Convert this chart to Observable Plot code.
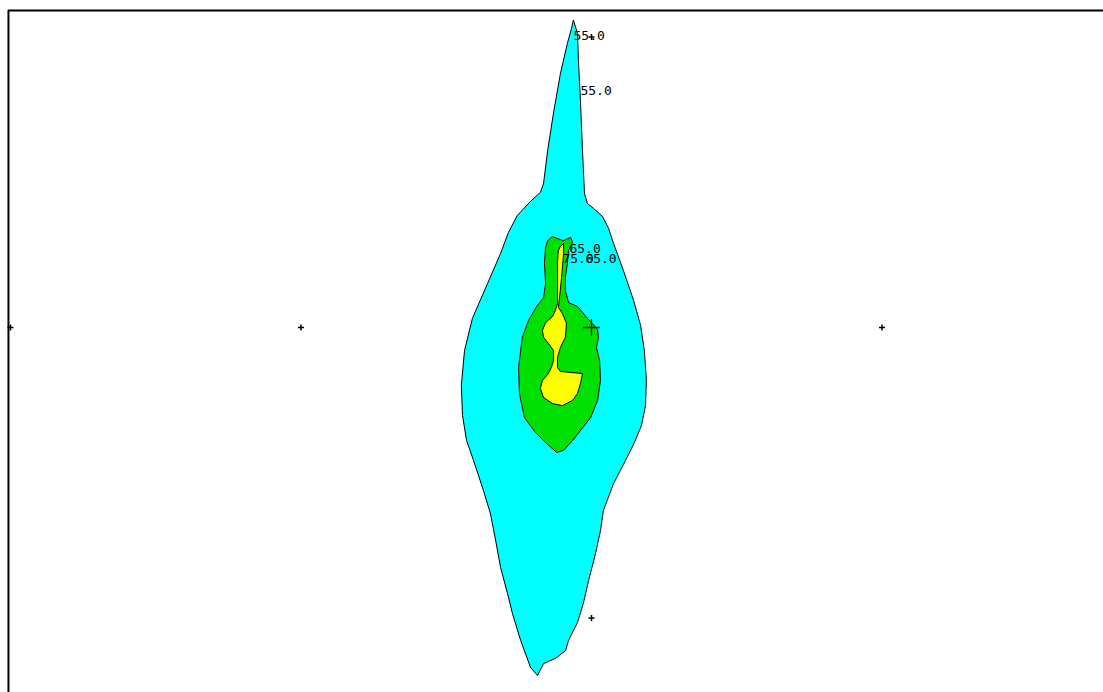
<!DOCTYPE html>
<html>
<head>
<meta charset="utf-8">
<script src="https://cdn.jsdelivr.net/npm/d3@7"></script>
<script src="https://cdn.jsdelivr.net/npm/@observablehq/plot@0.6"></script>
<style>
  html, body { margin: 0; padding: 0; background: #fff; }
  #chart svg { display: block; }
</style>
</head>
<body>
<div id="chart"></div>
<script>
// Contour levels and their fill colours
const levels = [55, 65, 75];
const levelColors = ["#00ffff", "#00e000", "#ffff00"];

// Contour polygons (grid units: 100 per grid-cross spacing)
const contour55 = [
  [-6.2,105.7],[-4.8,101.2],[-4.5,91.9],[-3.8,78.1],[-3.1,60.9],[-2.4,46.1],[-1.4,42.7],[0.7,41.0],
  [3.8,38.2],[5.9,34.1],[7.6,28.9],[11.0,19.6],[14.5,9.3],[16.9,0.7],[18.2,-7.9],[18.9,-18.2],
  [18.6,-26.9],[17.2,-33.7],[14.8,-39.6],[11.7,-45.8],[7.6,-53.7],[4.1,-63.0],[3.1,-69.9],[1.4,-77.8],
  [-1.0,-87.1],[-2.8,-95.0],[-4.8,-101.5],[-7.9,-107.7],[-8.9,-111.2],[-12.4,-113.9],[-16.5,-115.7],
  [-18.6,-119.8],[-21.0,-117.0],[-24.4,-107.7],[-27.2,-98.5],[-28.9,-91.6],[-31.3,-82.6],[-33.0,-73.3],
  [-34.8,-64.0],[-37.2,-56.1],[-40.6,-45.8],[-43.0,-38.9],[-44.4,-30.3],[-44.8,-20.0],[-43.7,-7.9],
  [-41.0,3.1],[-35.8,15.1],[-31.3,25.5],[-28.6,32.7],[-25.5,38.6],[-21.0,43.4],[-17.6,46.5],[-16.5,49.6],
  [-15.1,60.9],[-13.1,73.7],[-10.7,87.4],[-8.3,97.8],[-6.9,102.9]
];
const contour65 = [
  [-15.8,27.5],[-15.1,29.9],[-13.4,31.3],[-11.7,30.6],[-9.6,29.9],[-7.2,31.0],[-6.5,29.3],[-7.9,26.5],
  [-8.3,22.0],[-9.0,17.2],[-9.0,12.7],[-7.9,8.6],[-4.8,7.2],[-3.1,5.2],[-1.4,3.1],[0.3,1.4],[2.1,-0.7],
  [2.4,-3.4],[1.7,-6.9],[2.8,-11.4],[3.1,-18.2],[2.1,-25.1],[-0.3,-31.0],[-3.8,-35.5],[-6.5,-38.9],
  [-9.6,-42.3],[-12.0,-43.0],[-15.8,-39.6],[-19.6,-35.8],[-23.1,-31.0],[-24.8,-22.7],[-25.1,-13.8],
  [-23.8,-3.4],[-21.7,2.4],[-18.9,7.2],[-16.5,10.3],[-15.8,15.1],[-16.2,22.0]
];
const contour75 = [
  [-11.4,26.5],[-10.7,27.9],[-9.6,28.9],[-9.6,25.5],[-10.3,17.2],[-11.0,10.3],[-11.4,6.9],[-10.0,4.8],
  [-8.6,1.4],[-9.0,-3.4],[-10.7,-6.9],[-11.7,-10.3],[-11.7,-13.8],[-10.7,-15.1],[-7.2,-15.5],[-3.1,-15.8],
  [-3.8,-19.3],[-4.8,-22.7],[-6.5,-25.1],[-10.0,-26.9],[-13.4,-26.2],[-16.5,-24.1],[-17.6,-21.0],
  [-16.9,-18.2],[-15.1,-16.2],[-13.8,-13.8],[-13.1,-11.4],[-13.1,-7.9],[-14.8,-5.5],[-16.5,-3.4],
  [-16.9,-1.0],[-15.8,1.7],[-13.4,3.8],[-12.4,5.9],[-11.7,8.3],[-11.7,15.1],[-11.7,22.0]
];

// Grid crosses
const gridCrossX = [-200, -100, 100, 0, 0];
const gridCrossY = [0, 0, 0, -100, 100];
const originCross = [[0, 0]];

// Contour labels
const labelText = ["55.0", "55.0", "65.0", "75.0", "65.0"];
const labelX = [-6.2, -3.8, -7.6, -10.0, -2.1];
const labelY = [100.5, 81.6, 27.2, 23.8, 23.8];

// Plot window extent (grid units)
const xDomain = [-203.44, 176.25];
const yDomain = [-125.65, 112.56];
const frameLeft = -200.7;
const frameTop = 109.1;

const toRows = (pts, level) => pts.map(([x, y]) => ({x, y, level}));
const crosses = gridCrossX.map((x, i) => ({x, y: gridCrossY[i]}));
const labels = labelText.map((t, i) => ({t, x: labelX[i], y: labelY[i]}));

const thinPlus = {
  draw(ctx, size) {
    const r = Math.sqrt(size / Math.PI);
    ctx.moveTo(-r, 0); ctx.lineTo(r, 0);
    ctx.moveTo(0, -r); ctx.lineTo(0, r);
  }
};

const contours = [contour55, contour65, contour75];

const chart = Plot.plot({
  width: 1103,
  height: 692,
  margin: 0,
  x: {domain: xDomain, axis: null},
  y: {domain: yDomain, axis: null},
  style: {background: "#fff"},
  marks: [
    ...contours.map((pts, i) => Plot.line(toRows(pts, levels[i]), {
      x: "x", y: "y", curve: "linear-closed",
      fill: levelColors[i], stroke: "#000", strokeWidth: 1
    })),
    Plot.dot(crosses, {x: "x", y: "y", symbol: thinPlus, r: 3, stroke: "#000", fill: "none", strokeWidth: 1.5}),
    Plot.dot(originCross, {x: d => d[0], y: d => d[1], symbol: thinPlus, r: 8.5, stroke: "#000", fill: "none", strokeWidth: 1.3}),
    Plot.text(labels, {
      x: "x", y: "y", text: "t", textAnchor: "start", lineAnchor: "middle",
      fontFamily: "DejaVu Sans Mono", fontSize: 13, fill: "#000"
    }),
    Plot.ruleY([frameTop], {x1: frameLeft, x2: xDomain[1], stroke: "#000", strokeWidth: 2}),
    Plot.ruleX([frameLeft], {y1: yDomain[0], y2: frameTop, stroke: "#000", strokeWidth: 2})
  ]
});
document.getElementById("chart").appendChild(chart);
</script>
</body>
</html>
